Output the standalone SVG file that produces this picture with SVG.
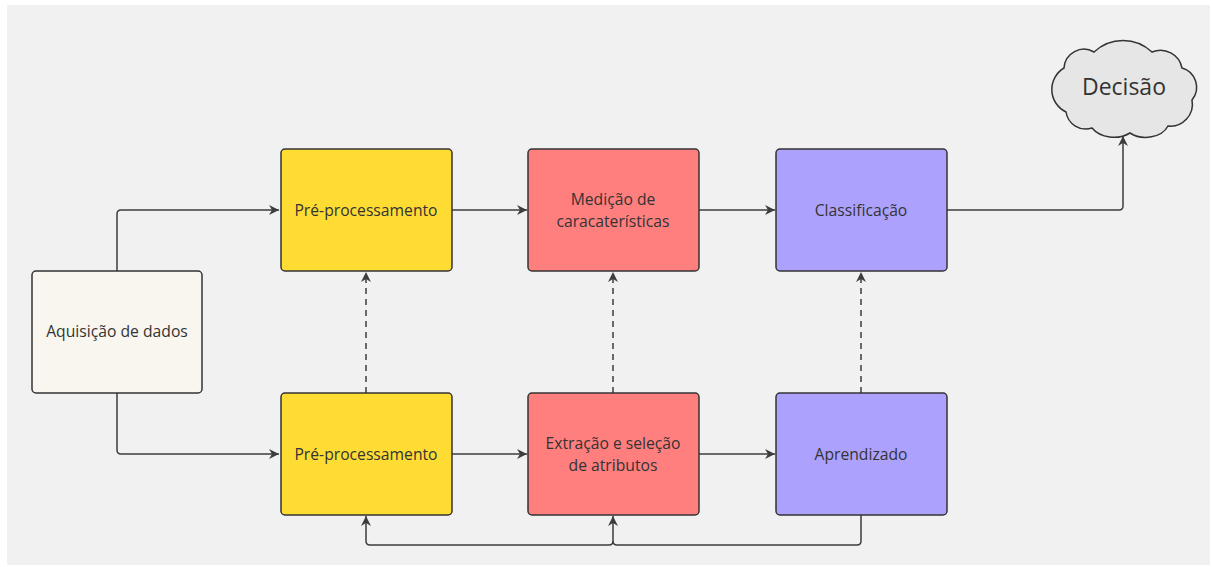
<svg xmlns="http://www.w3.org/2000/svg" width="1213" height="567" viewBox="0 0 1213 567">
  <style>
    .box { stroke: #333333; stroke-width: 1.5; }
    .lbl { font-family: "Open Sans", "Noto Sans", sans-serif; font-size: 15.7px; fill: #333333; text-anchor: middle; }
    .conn { fill: none; stroke: #3d3d3d; stroke-width: 1.5; }
    .dash { stroke-dasharray: 6 5; }
  </style>
  <defs>
    <marker id="arrow" markerUnits="userSpaceOnUse" markerWidth="12" markerHeight="12" viewBox="0 0 12 12" refX="11" refY="6" orient="auto">
      <path d="M1,1 L11,6 L1,11 L4,6 Z" fill="#3d3d3d"/>
    </marker>
  </defs>
  <rect x="0" y="0" width="1213" height="567" fill="#ffffff"/>
  <rect x="7" y="5" width="1203" height="560" fill="#f1f1f1"/>

  <g id="connectors">
    <path class="conn" d="M117,271 V214 Q117,210 121,210 H279" marker-end="url(#arrow)"/>
    <path class="conn" d="M117,393 V450 Q117,454 121,454 H279" marker-end="url(#arrow)"/>
    <path class="conn" d="M452,210 H527" marker-end="url(#arrow)"/>
    <path class="conn" d="M699,210 H775" marker-end="url(#arrow)"/>
    <path class="conn" d="M947,210 H1119 Q1123,210 1123,206 V136" marker-end="url(#arrow)"/>
    <path class="conn dash" d="M366,393 V272" marker-end="url(#arrow)"/>
    <path class="conn dash" d="M613,393 V272" marker-end="url(#arrow)"/>
    <path class="conn dash" d="M861,393 V272" marker-end="url(#arrow)"/>
    <path class="conn" d="M452,454 H527" marker-end="url(#arrow)"/>
    <path class="conn" d="M699,454 H775" marker-end="url(#arrow)"/>
    <path class="conn" d="M861,515 V541 Q861,545 857,545 H617 Q613,545 613,541 V516" marker-end="url(#arrow)"/>
    <path class="conn" d="M613,541 Q613,545 609,545 H370 Q366,545 366,541 V516" marker-end="url(#arrow)"/>
  </g>

  <g id="aquisicao">
    <rect class="box" x="32" y="271" width="170" height="122" rx="4" fill="#f9f6f0"/>
    <text class="lbl" x="117" y="337">Aquisição de dados</text>
  </g>
  <g id="preproc-top">
    <rect class="box" x="281" y="149" width="171" height="122" rx="4" fill="#fedc33"/>
    <text class="lbl" x="366" y="216">Pré-processamento</text>
  </g>
  <g id="medicao">
    <rect class="box" x="528" y="149" width="171" height="122" rx="4" fill="#ff7f7f"/>
    <text class="lbl" x="613" y="205">Medição de</text>
    <text class="lbl" x="613" y="227">caracaterísticas</text>
  </g>
  <g id="classificacao">
    <rect class="box" x="776" y="149" width="171" height="122" rx="4" fill="#aca2fd"/>
    <text class="lbl" x="861" y="216">Classificação</text>
  </g>
  <g id="preproc-bottom">
    <rect class="box" x="281" y="393" width="171" height="122" rx="4" fill="#fedc33"/>
    <text class="lbl" x="366" y="460">Pré-processamento</text>
  </g>
  <g id="extracao">
    <rect class="box" x="528" y="393" width="171" height="122" rx="4" fill="#ff7f7f"/>
    <text class="lbl" x="613" y="449">Extração e seleção</text>
    <text class="lbl" x="613" y="471">de atributos</text>
  </g>
  <g id="aprendizado">
    <rect class="box" x="776" y="393" width="171" height="122" rx="4" fill="#aca2fd"/>
    <text class="lbl" x="861" y="460">Aprendizado</text>
  </g>
  <g id="decisao">
    <path class="box" fill="#e6e6e6" d="M1064,68 A20,20 0 0 1 1094,52 A42,42 0 0 1 1152,52 A22,22 0 0 1 1182,68 A20,20 0 0 1 1192,100 A22,22 0 0 1 1168,126 A24,18 0 0 1 1130,133 A26,20 0 0 1 1092,128 A20,20 0 0 1 1066,112 A25,25 0 0 1 1064,68 Z"/>
    <text class="lbl" x="1124" y="95" style="font-size:23px">Decisão</text>
  </g>
</svg>
